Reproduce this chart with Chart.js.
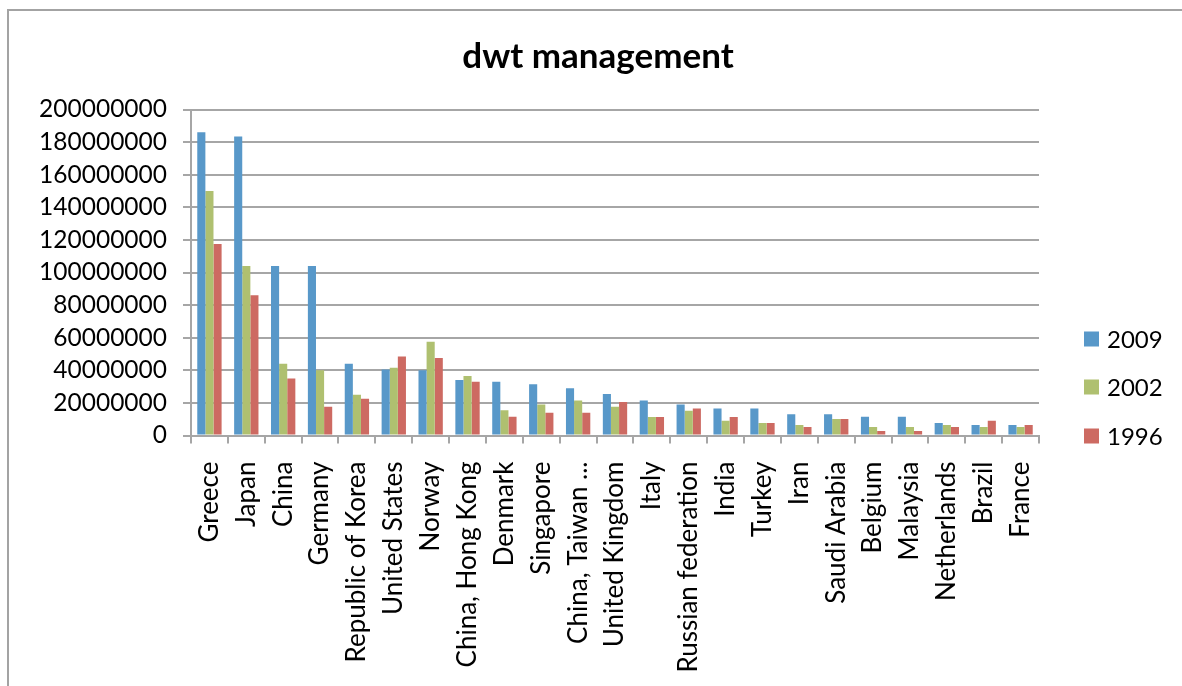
<!DOCTYPE html>
<html>
<head>
<meta charset="utf-8">
<title>dwt management</title>
<script src="https://cdn.jsdelivr.net/npm/chart.js@4"></script>
<style>
  html, body { margin: 0; padding: 0; background: #ffffff; overflow: hidden; }
  #wrap { position: relative; width: 1182px; height: 686px; }
  #frame { position: absolute; left: 7px; top: 9px; width: 1400px; height: 900px;
           border: 2px solid #a3a3a3; box-sizing: border-box; pointer-events: none; }
  canvas { position: absolute; left: 0; top: 0; }
</style>
</head>
<body>
<div id="wrap">
  <canvas id="chart" width="1182" height="686"></canvas>
  <div id="frame"></div>
</div>
<script>
// Fleet owned, by country of management (deadweight tonnage)
const countries = [
  "Greece", "Japan", "China", "Germany", "Republic of Korea", "United States",
  "Norway", "China, Hong Kong", "Denmark", "Singapore", "China, Taiwan ...",
  "United Kingdom", "Italy", "Russian federation", "India", "Turkey", "Iran",
  "Saudi Arabia", "Belgium", "Malaysia", "Netherlands", "Brazil", "France"
];

const seriesNames = ["2009", "2002", "1996"];

const dwt2009 = [
  186000000, 183500000, 104000000, 104000000, 44000000, 40500000,
  40000000, 34000000, 33000000, 31500000, 29000000,
  25500000, 21500000, 19000000, 16500000, 16500000, 13000000,
  13000000, 11500000, 11500000, 7700000, 6500000, 6500000
];

const dwt2002 = [
  150000000, 104000000, 44000000, 40000000, 25000000, 41500000,
  57500000, 36500000, 15500000, 19000000, 21500000,
  17700000, 11300000, 15200000, 9100000, 7700000, 6400000,
  10100000, 5200000, 5200000, 6400000, 5200000, 5200000
];

const dwt1996 = [
  117500000, 86000000, 35000000, 17700000, 22500000, 48500000,
  47500000, 33000000, 11500000, 14000000, 14000000,
  20500000, 11300000, 16500000, 11300000, 7700000, 5200000,
  10100000, 2800000, 2800000, 5200000, 9100000, 6400000
];

const yTickMin = 0;
const yTickMax = 200000000;
const yTickStep = 20000000;

const chartTitle = "dwt management";
const seriesColors = ["#5898c9", "#afc070", "#cd6a62"];
const gridColor = "#a6a6a6";
const FONT = "Lato, 'Open Sans', 'DejaVu Sans', sans-serif";

// Title centred over the whole frame, drawn above the plot
const frameTitle = {
  id: "frameTitle",
  afterDraw(chart) {
    const ctx = chart.ctx;
    ctx.save();
    ctx.font = "bold 35px " + FONT;
    ctx.fillStyle = "#000000";
    ctx.textAlign = "center";
    ctx.textBaseline = "middle";
    ctx.fillText(chartTitle, 598, 57);
    ctx.restore();
  }
};

// Legend drawn at the right of the plot, one row per series
const sideLegend = {
  id: "sideLegend",
  afterDraw(chart) {
    const ctx = chart.ctx;
    const rows = [339, 387, 436];
    ctx.save();
    ctx.font = "24px " + FONT;
    ctx.textBaseline = "middle";
    ctx.textAlign = "left";
    chart.data.datasets.forEach((ds, i) => {
      ctx.fillStyle = ds.backgroundColor;
      ctx.fillRect(1084, rows[i] - 7.5, 15, 15);
      ctx.fillStyle = "#000000";
      ctx.fillText(ds.label, 1107, rows[i] + 1);
    });
    ctx.restore();
  }
};

function build() {
  const datasets = [dwt2009, dwt2002, dwt1996].map((vals, i) => ({
    label: seriesNames[i],
    data: vals,
    backgroundColor: seriesColors[i],
    borderWidth: 0,
    barPercentage: 1.0,
    categoryPercentage: 0.66
  }));

  new Chart(document.getElementById("chart"), {
    type: "bar",
    data: { labels: countries, datasets },
    options: {
      responsive: false,
      animation: false,
      devicePixelRatio: 1,
      layout: { padding: { left: 0, right: 143, top: 109.5, bottom: 0 } },
      plugins: {
        legend: { display: false },
        tooltip: { enabled: false },
        title: { display: false }
      },
      scales: {
        x: {
          grid: {
            display: true,
            drawOnChartArea: false,
            drawTicks: true,
            tickLength: 8,
            color: gridColor,
            lineWidth: 2,
            offset: true
          },
          border: { display: true, color: gridColor, width: 2 },
          ticks: {
            color: "#000000",
            font: { family: FONT, size: 26 },
            minRotation: 90,
            maxRotation: 90,
            autoSkip: false,
            padding: 18
          },
          afterFit(scale) { scale.height = 250.5; }
        },
        y: {
          min: yTickMin,
          max: yTickMax,
          grid: {
            color: gridColor,
            lineWidth: 2,
            drawTicks: true,
            tickLength: 8
          },
          border: { display: true, color: gridColor, width: 2 },
          ticks: {
            stepSize: yTickStep,
            autoSkip: false,
            color: "#000000",
            font: { family: FONT, size: 24.5 },
            padding: 16,
            callback: (v) => String(v)
          },
          afterFit(scale) { scale.width = 191; }
        }
      }
    },
    plugins: [frameTitle, sideLegend]
  });
}

if (document.fonts && document.fonts.load) {
  Promise.all([
    document.fonts.load("24px Lato"),
    document.fonts.load("bold 35px Lato")
  ]).then(build, build);
} else {
  build();
}
</script>
</body>
</html>
